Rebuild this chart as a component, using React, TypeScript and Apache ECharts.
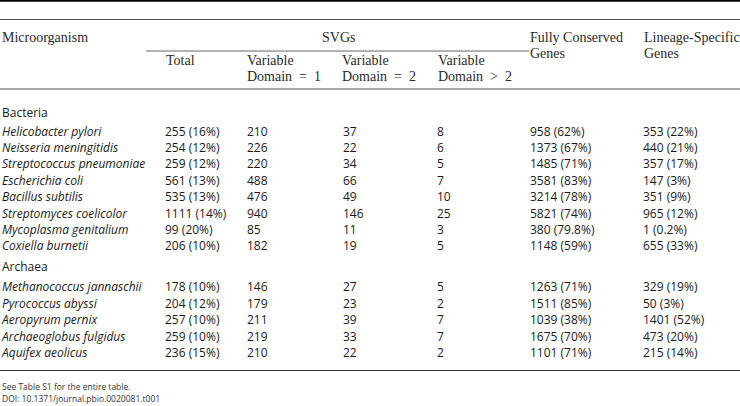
import React, { useEffect, useRef } from "react";
import * as echarts from "echarts";

const bacteria = [
  "Helicobacter pylori",
  "Neisseria meningitidis",
  "Streptococcus pneumoniae",
  "Escherichia coli",
  "Bacillus subtilis",
  "Streptomyces coelicolor",
  "Mycoplasma genitalium",
  "Coxiella burnetii",
];
const archaea = [
  "Methanococcus jannaschii",
  "Pyrococcus abyssi",
  "Aeropyrum pernix",
  "Archaeoglobus fulgidus",
  "Aquifex aeolicus",
];
const svgTotal = [255, 254, 259, 561, 535, 1111, 99, 206, 178, 204, 257, 259, 236];
const svgTotalPct = ["16", "12", "12", "13", "13", "14", "20", "10", "10", "12", "10", "10", "15"];
const vd1 = [210, 226, 220, 488, 476, 940, 85, 182, 146, 179, 211, 219, 210];
const vd2 = [37, 22, 34, 66, 49, 146, 11, 19, 27, 23, 39, 33, 22];
const vd3 = [8, 6, 5, 7, 10, 25, 3, 5, 5, 2, 7, 7, 2];
const conserved = [958, 1373, 1485, 3581, 3214, 5821, 380, 1148, 1263, 1511, 1039, 1675, 1101];
const conservedPct = ["62", "67", "71", "83", "78", "74", "79.8", "59", "71", "85", "38", "70", "71"];
const lineage = [353, 440, 357, 147, 351, 965, 1, 655, 329, 50, 1401, 473, 215];
const lineagePct = ["22", "21", "17", "3", "9", "12", "0.2", "33", "19", "3", "52", "20", "14"];
const groups = ["Bacteria", "Archaea"];
const footnotes = ["See Table S1 for the entire table.", "DOI: 10.1371/journal.pbio.0020081.t001"];

const SERIF = '14px "Liberation Serif", "DejaVu Serif", serif';
const SANS = '12px "Open Sans", "Noto Sans", sans-serif';
const SANS_I = 'italic 12px "Open Sans", "Noto Sans", sans-serif';
const SANS_S = '8.5px "Open Sans", "Noto Sans", sans-serif';

function txt(text: string, x: number, y: number, font: string, fill = "#1a1a1a") {
  return {
    type: "text",
    x,
    y,
    silent: true,
    style: { text, font, fill, textAlign: "left", textVerticalAlign: "middle" },
  };
}
function hline(x1: number, x2: number, y: number, w: number, color: string) {
  return {
    type: "line",
    silent: true,
    shape: { x1, y1: y, x2, y2: y },
    style: { stroke: color, lineWidth: w },
  };
}

export default function App() {
  const ref = useRef<HTMLDivElement>(null);
  useEffect(() => {
    document.body.style.margin = "0";
    const chart = echarts.init(ref.current!, undefined, { renderer: "svg" });
    const els: any[] = [];
    // rules
    els.push(hline(0, 740, 0.8, 2, "#000"));
    els.push(hline(0, 740, 19.5, 1.2, "#555"));
    els.push(hline(146, 529, 51, 1.2, "#666"));
    els.push(hline(0, 740, 89, 1.2, "#555"));
    els.push(hline(0, 740, 370.5, 1.2, "#333"));
    // headers
    const hc = "#2a2a2a";
    els.push(txt("Microorganism", 2, 37, SERIF, hc));
    els.push(txt("SVGs", 322, 37, SERIF, hc));
    els.push(txt("Fully Conserved", 530, 37, SERIF, hc));
    els.push(txt("Genes", 530, 53, SERIF, hc));
    els.push(txt("Lineage-Specific", 644, 37, SERIF, hc));
    els.push(txt("Genes", 644, 53, SERIF, hc));
    els.push(txt("Total", 166, 60, SERIF, hc));
    els.push(txt("Variable", 247, 60, SERIF, hc));
    els.push(txt("Domain  =  1", 247, 76, SERIF, hc));
    els.push(txt("Variable", 342, 60, SERIF, hc));
    els.push(txt("Domain  =  2", 342, 76, SERIF, hc));
    els.push(txt("Variable", 438, 60, SERIF, hc));
    els.push(txt("Domain  >  2", 438, 76, SERIF, hc));

    const cols = [165, 247, 343, 437, 530, 643];
    const addRow = (i: number, name: string, y: number) => {
      els.push(txt(name, 2, y, SANS_I));
      els.push(txt(`${svgTotal[i]} (${svgTotalPct[i]}%)`, cols[0], y, SANS));
      els.push(txt(String(vd1[i]), cols[1], y, SANS));
      els.push(txt(String(vd2[i]), cols[2], y, SANS));
      els.push(txt(String(vd3[i]), cols[3], y, SANS));
      els.push(txt(`${conserved[i]} (${conservedPct[i]}%)`, cols[4], y, SANS));
      els.push(txt(`${lineage[i]} (${lineagePct[i]}%)`, cols[5], y, SANS));
    };
    els.push(txt(groups[0], 2, 112.5, SANS));
    bacteria.forEach((n, k) => addRow(k, n, 131 + k * 16.4));
    els.push(txt(groups[1], 2, 266.5, SANS));
    archaea.forEach((n, k) => addRow(bacteria.length + k, n, 286.5 + k * 16.5));
    els.push(txt(footnotes[0], 2, 386, SANS_S, "#333"));
    els.push(txt(footnotes[1], 2, 398, SANS_S, "#333"));

    chart.setOption({
      animation: false,
      backgroundColor: "#fff",
      graphic: { elements: els },
    });
    return () => chart.dispose();
  }, []);
  return (
    <div
      ref={ref}
      style={{ position: "absolute", left: 0, top: 0, width: 740, height: 406 }}
    />
  );
}
